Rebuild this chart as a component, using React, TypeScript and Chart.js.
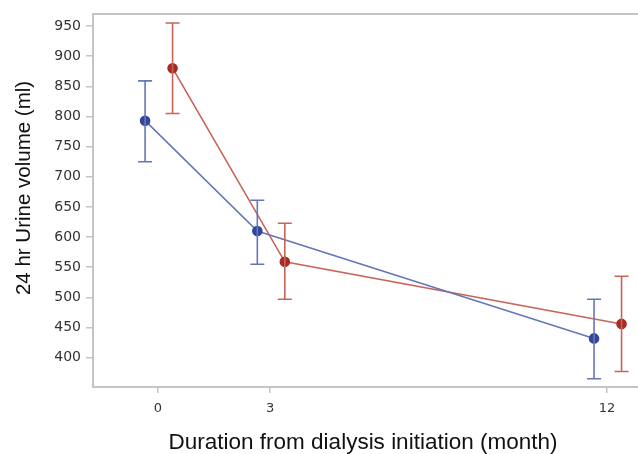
import React, { useEffect, useRef } from "react";
import { Chart, registerables } from "chart.js";

Chart.register(...registerables);

const months = [0, 3, 12];
const xTicks = [0, 3, 12];
const yTicks = [400, 450, 500, 550, 600, 650, 700, 750, 800, 850, 900, 950];

const blueMean = [793, 610, 432];
const blueUpper = [859, 661, 497];
const blueLower = [725, 555, 365];

const redMean = [880, 559, 456];
const redUpper = [955, 623, 535];
const redLower = [805, 497, 377];

const X_TITLE = "Duration from dialysis initiation (month)";
const Y_TITLE = "24 hr Urine volume (ml)";

const BLUE_DODGE = -0.345;
const RED_DODGE = 0.39;

const BLUE_LINE = "#6677b8";
const BLUE_MARK = "#34469a";
const RED_LINE = "#c8645a";
const RED_MARK = "#a82a22";

const TITLE_FONT = "'Liberation Sans', Arial, sans-serif";
const TICK_FONT = "'DejaVu Sans', Verdana, sans-serif";

const errorBarPlugin = {
  id: "errorBars",
  afterDatasetsDraw(chart: any) {
    const ctx = chart.ctx;
    const xs = chart.scales.x;
    const ys = chart.scales.y;
    const sets = [
      { dodge: BLUE_DODGE, up: blueUpper, lo: blueLower, color: BLUE_LINE },
      { dodge: RED_DODGE, up: redUpper, lo: redLower, color: RED_LINE },
    ];
    ctx.save();
    sets.forEach((s) => {
      ctx.strokeStyle = s.color;
      ctx.lineWidth = 1.6;
      months.forEach((m, i) => {
        const px = xs.getPixelForValue(m + s.dodge);
        const pu = ys.getPixelForValue(s.up[i]);
        const pl = ys.getPixelForValue(s.lo[i]);
        ctx.beginPath();
        ctx.moveTo(px, pu);
        ctx.lineTo(px, pl);
        ctx.moveTo(px - 7, pu);
        ctx.lineTo(px + 7, pu);
        ctx.moveTo(px - 7, pl);
        ctx.lineTo(px + 7, pl);
        ctx.stroke();
      });
    });
    ctx.restore();
  },
};

const framePlugin = {
  id: "frame",
  afterDraw(chart: any) {
    const { ctx, chartArea } = chart;
    ctx.save();
    ctx.strokeStyle = "#c4c4c4";
    ctx.lineWidth = 2;
    ctx.beginPath();
    ctx.moveTo(chartArea.left, chartArea.top);
    ctx.lineTo(chartArea.right, chartArea.top);
    ctx.stroke();

    ctx.fillStyle = "#111";
    ctx.font = `22.5px ${TITLE_FONT}`;
    ctx.textAlign = "center";
    ctx.textBaseline = "alphabetic";
    ctx.fillText(X_TITLE, 363, 448.5);

    ctx.translate(24, 188);
    ctx.rotate(-Math.PI / 2);
    ctx.font = `20.5px ${TITLE_FONT}`;
    ctx.textBaseline = "middle";
    ctx.fillText(Y_TITLE, 0, 0);
    ctx.restore();
  },
};

export default function App() {
  const ref = useRef<HTMLCanvasElement | null>(null);

  useEffect(() => {
    if (!ref.current) return;
    const chart = new Chart(ref.current, {
      type: "scatter",
      data: {
        datasets: [
          {
            label: "A",
            data: months.map((m, i) => ({ x: m + BLUE_DODGE, y: blueMean[i] })),
            showLine: true,
            borderColor: BLUE_LINE,
            borderWidth: 1.6,
            backgroundColor: BLUE_MARK,
            pointBackgroundColor: BLUE_MARK,
            pointBorderColor: BLUE_MARK,
            pointRadius: 4.5,
          },
          {
            label: "B",
            data: months.map((m, i) => ({ x: m + RED_DODGE, y: redMean[i] })),
            showLine: true,
            borderColor: RED_LINE,
            borderWidth: 1.6,
            backgroundColor: RED_MARK,
            pointBackgroundColor: RED_MARK,
            pointBorderColor: RED_MARK,
            pointRadius: 4.5,
          },
        ],
      },
      options: {
        animation: false,
        responsive: false,
        maintainAspectRatio: false,
        layout: { autoPadding: false, padding: { top: 14, right: 0, left: 0, bottom: 0 } },
        plugins: {
          legend: { display: false },
          tooltip: { enabled: false },
        },
        scales: {
          x: {
            type: "linear",
            min: -1.737,
            max: 12.83,
            afterBuildTicks: (scale: any) => {
              scale.ticks = xTicks.map((v) => ({ value: v }));
            },
            afterFit: (scale: any) => {
              scale.height = 67;
              scale.paddingLeft = 0;
              scale.paddingRight = 0;
            },
            grid: {
              drawOnChartArea: false,
              drawTicks: true,
              tickLength: 6,
              color: "#c4c4c4",
              lineWidth: 1.5,
            },
            border: { color: "#c4c4c4", width: 2 },
            ticks: {
              color: "#333",
              font: { family: TICK_FONT, size: 13 },
              padding: 8,
              maxRotation: 0,
            },
            title: { display: false },
          },
          y: {
            type: "linear",
            min: 351.4,
            max: 969.9,
            afterBuildTicks: (scale: any) => {
              scale.ticks = yTicks.map((v) => ({ value: v }));
            },
            afterFit: (scale: any) => {
              scale.width = 93;
              scale.paddingTop = 0;
              scale.paddingBottom = 0;
            },
            grid: {
              drawOnChartArea: false,
              drawTicks: true,
              tickLength: 7,
              color: "#c4c4c4",
              lineWidth: 1.5,
            },
            border: { color: "#c4c4c4", width: 2 },
            ticks: {
              color: "#333",
              font: { family: TICK_FONT, size: 14 },
              padding: 5,
            },
            title: { display: false },
          },
        },
      },
      plugins: [errorBarPlugin, framePlugin],
    } as any);
    return () => chart.destroy();
  }, []);

  return (
    <div style={{ position: "fixed", left: 0, top: 0, width: 638, height: 454, background: "#fff" }}>
      <canvas ref={ref} width={638} height={454} style={{ width: 638, height: 454 }} />
    </div>
  );
}
